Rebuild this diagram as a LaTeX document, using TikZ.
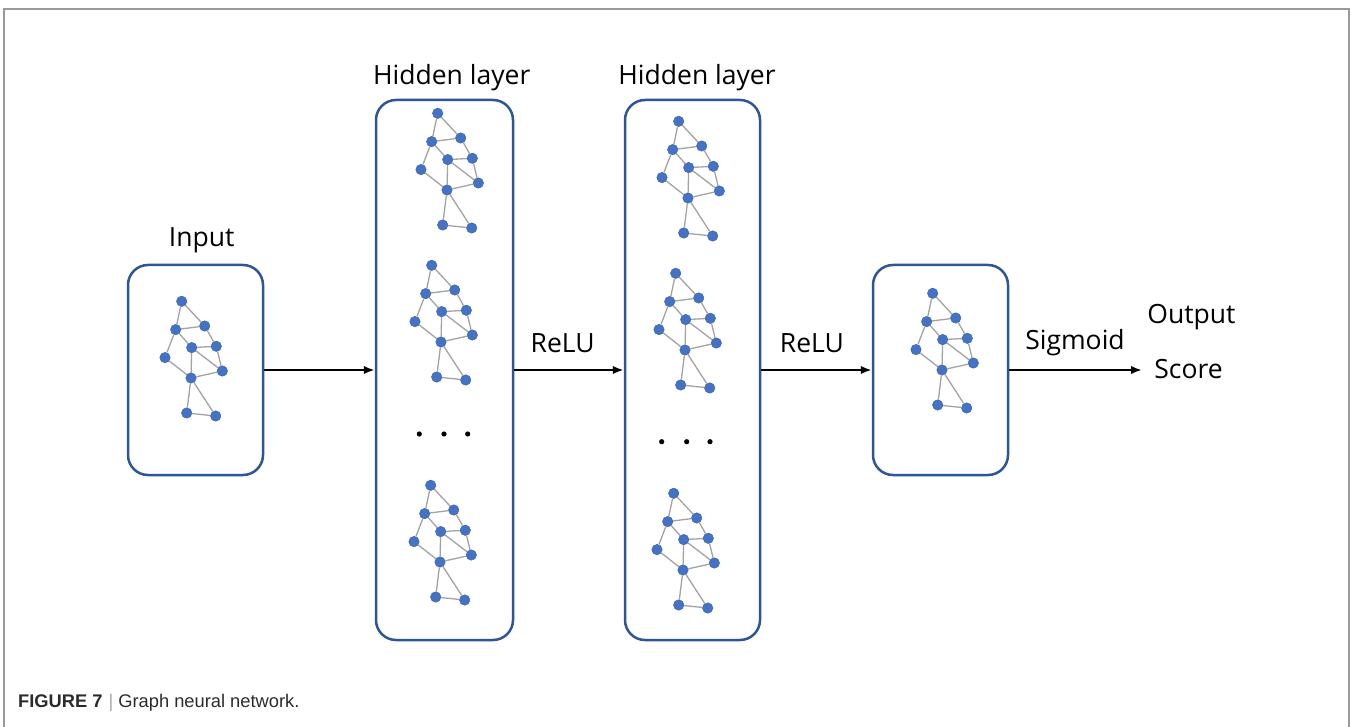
\documentclass[tikz,border=0pt]{standalone}
\usepackage{fontspec}
\setmainfont{Open Sans}
\newfontfamily\capfont{Liberation Sans}
\usetikzlibrary{arrows.meta}
\definecolor{boxblue}{HTML}{2E5597}
\definecolor{nodeblue}{HTML}{4472C4}
\definecolor{edgegray}{HTML}{A3A3A3}
\definecolor{framegray}{HTML}{9A9A9A}
\definecolor{captext}{HTML}{2B2B2B}
\tikzset{
  gv/.style={circle, fill=nodeblue, draw=nodeblue!85!black, line width=0.4pt, inner sep=0pt, minimum size=10.5pt},
  ge/.style={edgegray, line width=1.3pt},
  layerbox/.style={draw=boxblue, line width=2.5pt, rounded corners=20pt, fill=white, inner sep=0pt},
  flow/.style={-{Latex[length=11pt,width=8.5pt]}, line width=2.3pt, black},
  lbl/.style={font=\fontsize{26.5}{30}\selectfont, inner sep=0pt},
  gnn/.pic={
    \node[gv] (-1) at (-9.3,-76.7) {};
    \node[gv] (-2) at (-15.3,-48.4) {};
    \node[gv] (-3) at (13.7,-52) {};
    \node[gv] (-4) at (0.7,-30.4) {};
    \node[gv] (-5) at (25.3,-31.7) {};
    \node[gv] (-6) at (-26,-20.4) {};
    \node[gv] (-7) at (31.3,-7) {};
    \node[gv] (-8) at (0,0) {};
    \node[gv] (-9) at (-4.3,35) {};
    \node[gv] (-10) at (24.7,38) {};
    \draw[ge] (-1) -- (-2);
    \draw[ge] (-1) -- (-3);
    \draw[ge] (-2) -- (-3);
    \draw[ge] (-2) -- (-4);
    \draw[ge] (-2) -- (-6);
    \draw[ge] (-3) -- (-5);
    \draw[ge] (-4) -- (-5);
    \draw[ge] (-4) -- (-7);
    \draw[ge] (-4) -- (-8);
    \draw[ge] (-5) -- (-7);
    \draw[ge] (-6) -- (-8);
    \draw[ge] (-7) -- (-8);
    \draw[ge] (-8) -- (-9);
    \draw[ge] (-8) -- (-10);
    \draw[ge] (-9) -- (-10);
  }
}
\begin{document}
\begin{tikzpicture}[x=1pt, y=-1pt]
\useasboundingbox (0,0) rectangle (1353,727);
% outer frame
\draw[framegray, line width=1.5pt] (4,727) -- (4,9) -- (1349,9) -- (1349,727);

% layer boxes
\node[layerbox, minimum width=135pt, minimum height=210pt] (inbox) at (195.5,370) {};
\node[layerbox, minimum width=137pt, minimum height=540pt] (hone) at (444.5,370) {};
\node[layerbox, minimum width=135pt, minimum height=540pt] (htwo) at (692.5,370) {};
\node[layerbox, minimum width=135pt, minimum height=210pt] (outbox) at (940.5,370) {};

% graphs
\pic (gin) at (191,378) {gnn};
\pic (ha) at (447,190) {gnn};
\pic (hb) at (441,342) {gnn};
\pic (hc) at (440,562) {gnn};
\pic (ka) at (688,198) {gnn};
\pic (kb) at (685,350) {gnn};
\pic (kc) at (683,570) {gnn};
\pic (gout) at (942,370) {gnn};

% ellipsis dots
\fill (419.3,434) circle (2.6pt);
\fill (444,434) circle (2.6pt);
\fill (467.7,434) circle (2.6pt);
\fill (661.7,441.7) circle (2.6pt);
\fill (686.7,441.7) circle (2.6pt);
\fill (710,441.7) circle (2.6pt);

% labels
\node[lbl] (linput) at (201.7,240) {Input};
\node[lbl] (lhone) at (451.7,78) {Hidden layer};
\node[lbl] (lhtwo) at (697,78) {Hidden layer};
\node[lbl] (lrelua) at (562.7,343) {ReLU};
\node[lbl] (lrelub) at (812,343) {ReLU};
\node[lbl] (lsig) at (1075,343) {Sigmoid};
\node[lbl] (lout) at (1191.5,317) {Output};
\node[lbl] (lscore) at (1188.5,369) {Score};

% connectors
\coordinate (endpt) at (1142,370);
\draw[flow] (inbox.east) -- (hone.west);
\draw[flow] (hone.east) -- (htwo.west);
\draw[flow] (htwo.east) -- (outbox.west);
\draw[flow] (outbox.east) -- (endpt);

% caption
\node[anchor=base west, inner sep=0pt, font=\capfont\fontsize{18.3}{21}\selectfont, text=captext] (caption) at (18,707)
  {\textbf{FIGURE 7}\hspace{6pt}{\color{gray!70}|}\hspace{5pt}Graph neural network.};
\end{tikzpicture}
\end{document}
